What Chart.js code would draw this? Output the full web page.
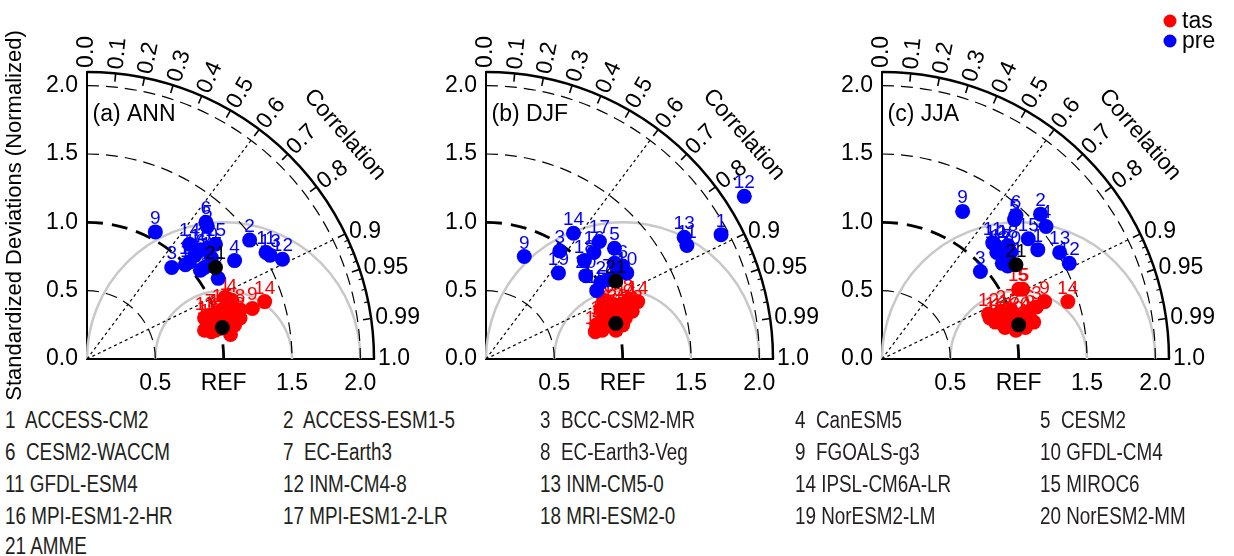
<!DOCTYPE html>
<html>
<head>
<meta charset="utf-8">
<title>Taylor diagrams</title>
<script src="https://cdn.jsdelivr.net/npm/chart.js@4.4.0/dist/chart.umd.min.js"></script>
<style>
  html, body { margin: 0; padding: 0; background: #fff; }
  #wrap { position: relative; width: 1234px; height: 556px; overflow: hidden; }
  canvas.panel { position: absolute; top: 0; }
  .model { position: absolute; white-space: pre; color: #231f20;
           font: 23px "Liberation Sans Narrow", "Liberation Sans", Arial, sans-serif;
           transform-origin: left center;
           transform: translateY(-50%) scaleX(0.82); line-height: 1; }
</style>
</head>
<body>
<div id="wrap">
  <canvas id="ann" class="panel" width="420" height="400" style="left:0px"></canvas>
  <canvas id="djf" class="panel" width="420" height="400" style="left:399px"></canvas>
  <canvas id="jja" class="panel" width="439" height="400" style="left:795px"></canvas>
</div>
<script>
// ===== DATA =====
const models = ['ACCESS-CM2', 'ACCESS-ESM1-5', 'BCC-CSM2-MR', 'CanESM5', 'CESM2',
  'CESM2-WACCM', 'EC-Earth3', 'EC-Earth3-Veg', 'FGOALS-g3', 'GFDL-CM4',
  'GFDL-ESM4', 'INM-CM4-8', 'INM-CM5-0', 'IPSL-CM6A-LR', 'MIROC6',
  'MPI-ESM1-2-HR', 'MPI-ESM1-2-LR', 'MRI-ESM2-0', 'NorESM2-LM', 'NorESM2-MM', 'AMME'];

// correlation ticks on the outer arc
const corrTicks = [0.0, 0.1, 0.2, 0.3, 0.4, 0.5, 0.6, 0.7, 0.8, 0.9, 0.95, 0.99, 1.0];
const corrTickLabels = ['0.0', '0.1', '0.2', '0.3', '0.4', '0.5', '0.6', '0.7', '0.8', '0.9', '0.95', '0.99', '1.0'];
const corrMinorTicks = [0.91, 0.92, 0.93, 0.94, 0.96, 0.97, 0.98];
const corrRays = [0.6, 0.9];
const stdArcs = [0.5, 1.0, 1.5, 2.0];
const rmsCircles = [0.5, 1.0];

// positions in normalized std units (x = std*corr, y = std*sin), models 1..21
const annTasX = [1.01, 0.86, 1.12, 1.06, 1.03, 0.94, 0.90, 1.12, 1.21, 0.90, 0.86, 0.94, 1.05, 1.30, 0.99, 0.91, 0.88, 1.08, 0.97, 1.01, 0.99];
const annTasY = [0.45, 0.21, 0.30, 0.43, 0.34, 0.29, 0.32, 0.36, 0.37, 0.25, 0.30, 0.21, 0.18, 0.42, 0.36, 0.20, 0.27, 0.25, 0.32, 0.25, 0.23];
const annPreX = [0.72, 1.19, 0.62, 1.08, 0.88, 0.87, 0.96, 0.86, 0.50, 0.83, 1.31, 1.43, 1.34, 0.75, 0.94, 0.79, 0.91, 0.75, 0.83, 0.88, 0.94];
const annPreY = [0.69, 0.87, 0.67, 0.72, 0.97, 1.00, 0.59, 0.67, 0.93, 0.80, 0.78, 0.73, 0.76, 0.84, 0.84, 0.76, 0.74, 0.71, 0.65, 0.81, 0.67];

const djfTasX = [0.99, 0.81, 1.02, 1.06, 0.91, 0.88, 0.95, 1.04, 0.84, 0.90, 0.85, 0.80, 1.00, 1.11, 0.93, 0.86, 0.97, 1.07, 0.84, 0.96, 0.95];
const djfTasY = [0.40, 0.25, 0.30, 0.40, 0.30, 0.35, 0.21, 0.43, 0.36, 0.25, 0.21, 0.20, 0.25, 0.42, 0.40, 0.43, 0.32, 0.35, 0.27, 0.36, 0.26];
const djfPreX = [1.72, 0.84, 0.54, 0.94, 0.94, 1.00, 0.89, 0.96, 0.28, 1.03, 1.47, 1.89, 1.45, 0.64, 0.81, 0.79, 0.83, 0.72, 0.53, 0.73, 0.95];
const djfPreY = [0.91, 0.56, 0.79, 0.70, 0.81, 0.68, 0.58, 0.63, 0.75, 0.63, 0.83, 1.19, 0.89, 0.92, 0.50, 0.78, 0.86, 0.72, 0.63, 0.61, 0.57];

const jjaTasX = [0.79, 0.87, 1.13, 1.05, 1.03, 1.08, 0.94, 1.11, 1.19, 0.88, 0.83, 0.78, 0.98, 1.36, 1.00, 0.90, 0.93, 1.05, 0.96, 1.01, 1.00];
const jjaTasY = [0.30, 0.35, 0.38, 0.30, 0.51, 0.35, 0.36, 0.27, 0.42, 0.29, 0.27, 0.33, 0.21, 0.42, 0.51, 0.23, 0.32, 0.23, 0.27, 0.30, 0.25];
const jjaPreX = [1.14, 1.16, 0.72, 1.20, 0.97, 0.98, 0.89, 0.92, 0.59, 0.83, 0.81, 1.37, 1.30, 0.94, 1.07, 0.84, 0.87, 0.92, 0.88, 0.94, 0.98];
const jjaPreY = [0.80, 1.06, 0.64, 0.97, 1.02, 1.05, 0.75, 0.68, 1.08, 0.83, 0.85, 0.70, 0.78, 0.70, 0.88, 0.78, 0.80, 0.83, 0.70, 0.78, 0.69];

const TAS_COLOR = '#ff0000';
const PRE_COLOR = '#0000ff';
const MME_COLOR = '#000000';
const FONT = '"Liberation Sans", Arial, sans-serif';

Chart.defaults.font.family = FONT;
Chart.defaults.color = '#000';

// ===== TAYLOR DECORATION PLUGIN =====
const taylorPlugin = {
    id: 'taylor',

    beforeDatasetsDraw(chart) {
        const opts = chart.options.plugins.taylor;
        const { ctx } = chart;
        const xs = chart.scales.x;
        const ys = chart.scales.y;
        const ox = xs.getPixelForValue(0);
        const oy = ys.getPixelForValue(0);
        const R = v => xs.getPixelForValue(v) - ox;
        const polar = (r, c) => {
            const a = Math.acos(c);
            return [ox + R(r) * Math.cos(a), oy - R(r) * Math.sin(a)];
        };

        ctx.save();

        // RMS difference circles around REF
        ctx.strokeStyle = '#c8c8c8';
        ctx.lineWidth = 2.5;
        rmsCircles.forEach(r => {
            ctx.beginPath();
            ctx.arc(xs.getPixelForValue(1), oy, R(r), Math.PI, 2 * Math.PI);
            ctx.stroke();
        });

        // standard deviation arcs
        ctx.strokeStyle = '#000';
        stdArcs.forEach(s => {
            ctx.beginPath();
            if (s === 1) {
                ctx.lineWidth = 2.8;
                ctx.setLineDash([16, 9]);
            } else {
                ctx.lineWidth = 1.2;
                ctx.setLineDash([12, 7]);
            }
            ctx.arc(ox, oy, R(s), -Math.PI / 2, 0);
            ctx.stroke();
        });

        // correlation rays
        ctx.lineWidth = 1.2;
        ctx.setLineDash([3, 3]);
        corrRays.forEach(c => {
            const [px, py] = polar(2.0, c);
            ctx.beginPath();
            ctx.moveTo(ox, oy);
            ctx.lineTo(px, py);
            ctx.stroke();
        });
        ctx.setLineDash([]);

        // outer correlation arc
        ctx.lineWidth = 2.5;
        ctx.beginPath();
        ctx.arc(ox, oy, R(2.1), -Math.PI / 2, 0);
        ctx.stroke();

        // tick marks
        ctx.lineWidth = 1.6;
        corrTicks.forEach(c => {
            const [x1, y1] = polar(2.1, c);
            const [x2, y2] = polar(2.04, c);
            ctx.beginPath(); ctx.moveTo(x1, y1); ctx.lineTo(x2, y2); ctx.stroke();
        });
        ctx.lineWidth = 1.2;
        corrMinorTicks.forEach(c => {
            const [x1, y1] = polar(2.1, c);
            const [x2, y2] = polar(2.07, c);
            ctx.beginPath(); ctx.moveTo(x1, y1); ctx.lineTo(x2, y2); ctx.stroke();
        });

        // correlation labels
        ctx.fillStyle = '#000';
        ctx.font = '23px ' + FONT;
        ctx.textAlign = 'left';
        ctx.textBaseline = 'middle';
        corrTicks.forEach((c, i) => {
            const [px, py] = polar(2.13, c);
            ctx.save();
            ctx.translate(px, py);
            if (c < 0.85) ctx.rotate(-Math.acos(c));
            ctx.fillText(corrTickLabels[i], 0, 0);
            ctx.restore();
        });

        // "Correlation" label along the arc
        const ca = 41 * Math.PI / 180;
        ctx.save();
        ctx.translate(ox + R(2.5) * Math.cos(ca), oy - R(2.5) * Math.sin(ca));
        ctx.rotate(Math.PI / 2 - ca);
        ctx.textAlign = 'center';
        ctx.fillText('Correlation', 0, 0);
        ctx.restore();

        // panel title
        ctx.font = '23px ' + FONT;
        ctx.textAlign = 'left';
        ctx.fillText(opts.title, xs.getPixelForValue(0.04), ys.getPixelForValue(1.79));

        ctx.restore();
    },

    afterDatasetDraw(chart, args) {
        const ds = chart.data.datasets[args.index];
        const { ctx } = chart;
        ctx.save();
        ctx.font = '19px ' + FONT;
        ctx.textAlign = 'center';
        ctx.textBaseline = 'alphabetic';
        args.meta.data.forEach((el, i) => {
            ctx.fillStyle = ds.labelColors ? ds.labelColors[i] : ds.backgroundColor;
            ctx.fillText(String(ds.numbers[i]), el.x, el.y - 8);
        });
        ctx.restore();
    },

    afterDraw(chart) {
        const opts = chart.options.plugins.taylor;
        if (!opts.legend) return;
        const { ctx } = chart;
        const items = [['tas', TAS_COLOR, 21], ['pre', PRE_COLOR, 41]];
        ctx.save();
        ctx.font = '23px ' + FONT;
        ctx.textAlign = 'left';
        ctx.textBaseline = 'middle';
        items.forEach(([label, color, y]) => {
            ctx.fillStyle = color;
            ctx.beginPath();
            ctx.arc(375, y, 6.5, 0, 2 * Math.PI);
            ctx.fill();
            ctx.fillStyle = '#000';
            ctx.fillText(label, 387, y + 1);
        });
        ctx.restore();
    }
};

// ===== PANEL BUILDER =====
function toPoints(xs, ys) {
    return xs.slice(0, 20).map((v, i) => ({ x: v, y: ys[i] }));
}

function createPanel(canvasId, title, tasX, tasY, preX, preY, showYTitle, showLegend) {
    const ctx = document.getElementById(canvasId);
    const nums = models.slice(0, 20).map((_, i) => i + 1);
    const pointStyle = { pointRadius: 7.5, pointBorderWidth: 0, showLine: false, clip: false };

    // higher order is drawn first: tas, then pre, then the multi-model mean on top
    return new Chart(ctx, {
        type: 'scatter',
        data: {
            datasets: [
                { label: 'tas', order: 3, data: toPoints(tasX, tasY), backgroundColor: TAS_COLOR,
                  pointBackgroundColor: TAS_COLOR, numbers: nums, ...pointStyle },
                { label: 'pre', order: 2, data: toPoints(preX, preY), backgroundColor: PRE_COLOR,
                  pointBackgroundColor: PRE_COLOR, numbers: nums, ...pointStyle },
                { label: 'AMME', order: 1, data: [{ x: tasX[20], y: tasY[20] }, { x: preX[20], y: preY[20] }],
                  backgroundColor: MME_COLOR, pointBackgroundColor: MME_COLOR, numbers: [21, 21],
                  labelColors: [TAS_COLOR, MME_COLOR], ...pointStyle }
            ]
        },
        options: {
            responsive: false,
            animation: false,
            events: [],
            layout: { padding: { left: 0, top: 72, right: canvasId === 'jja' ? 65 : 46, bottom: 0 } },
            plugins: {
                legend: { display: false },
                tooltip: { enabled: false },
                taylor: { title: title, legend: showLegend }
            },
            scales: {
                x: {
                    type: 'linear', min: 0, max: 2.1,
                    afterFit(scale) { scale.height = 41; },
                    grid: { display: false, drawTicks: false },
                    border: { display: true, color: '#000', width: 2 },
                    ticks: {
                        stepSize: 0.5, includeBounds: false, autoSkip: false, maxRotation: 0,
                        padding: 11, color: '#000', font: { size: 23 },
                        callback: v => (v === 0 ? '' : v === 1 ? 'REF' : v.toFixed(1))
                    }
                },
                y: {
                    type: 'linear', min: 0, max: 2.1,
                    afterFit(scale) { scale.width = 87; },
                    grid: { display: false, drawTicks: false },
                    border: { display: true, color: '#000', width: 2 },
                    ticks: {
                        stepSize: 0.5, includeBounds: false, autoSkip: false,
                        padding: 9, color: '#000', font: { size: 23 },
                        callback: v => v.toFixed(1)
                    },
                    title: {
                        display: showYTitle, text: 'Standardized Deviations (Normalized)',
                        color: '#000', font: { size: 22 }, padding: { top: 2, bottom: 0 }
                    }
                }
            }
        },
        plugins: [taylorPlugin]
    });
}

createPanel('ann', '(a) ANN', annTasX, annTasY, annPreX, annPreY, true, false);
createPanel('djf', '(b) DJF', djfTasX, djfTasY, djfPreX, djfPreY, false, false);
createPanel('jja', '(c) JJA', jjaTasX, jjaTasY, jjaPreX, jjaPreY, false, true);

// ===== MODEL LIST =====
const listCols = [5, 283, 540, 795, 1040];
const listRows = [420, 452, 484, 516, 546];
const wrap = document.getElementById('wrap');
models.forEach((name, i) => {
    const div = document.createElement('div');
    div.className = 'model';
    div.textContent = (i + 1) + (i < 9 ? '  ' : ' ') + name;
    div.style.left = listCols[i % 5] + 'px';
    div.style.top = listRows[Math.floor(i / 5)] + 'px';
    wrap.appendChild(div);
});
</script>
</body>
</html>
